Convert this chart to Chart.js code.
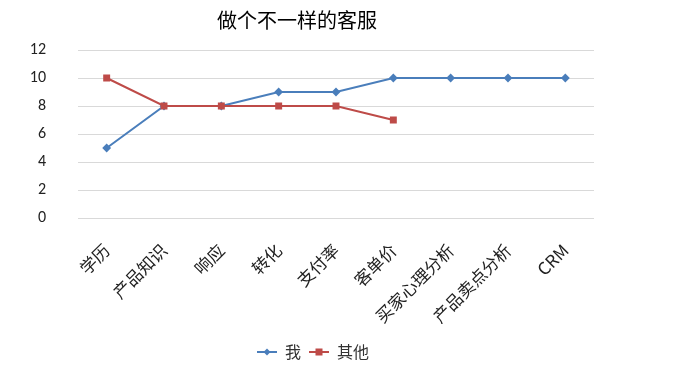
<!DOCTYPE html>
<html>
<head>
<meta charset="utf-8">
<script src="https://cdn.jsdelivr.net/npm/chart.js@4"></script>
<style>
  html, body { margin: 0; padding: 0; background: #fff; }
  #wrap { width: 674px; height: 372px; }
</style>
</head>
<body>
<div id="wrap"><canvas id="chart" width="674" height="372"></canvas></div>
<script>
/* data */
const categories = ["学历", "产品知识", "响应", "转化", "支付率", "客单价", "买家心理分析", "产品卖点分析", "CRM"];
const seriesMe = [5, 8, 8, 9, 9, 10, 10, 10, 10];
const seriesOthers = [10, 8, 8, 8, 8, 7, null, null, null];
const seriesNames = ["我", "其他"];
const yTicks = [0, 2, 4, 6, 8, 10, 12];

const BLUE = "#4a7ebb";
const RED = "#be4b48";
const CJK = "'Noto Sans CJK SC', 'Noto Sans', sans-serif";

// small line+marker picture for the legend
function legendIcon(color, shape) {
  const c = document.createElement("canvas");
  c.width = 20; c.height = 10;
  const g = c.getContext("2d");
  g.strokeStyle = color;
  g.lineWidth = 2;
  g.beginPath();
  g.moveTo(0, 5); g.lineTo(20, 5);
  g.stroke();
  g.fillStyle = color;
  if (shape === "rect") {
    g.fillRect(6.5, 1.5, 7, 7);
  } else {
    g.beginPath();
    g.moveTo(10, 1.5); g.lineTo(13.5, 5); g.lineTo(10, 8.5); g.lineTo(6.5, 5);
    g.closePath(); g.fill();
  }
  return c;
}
const icons = [legendIcon(BLUE, "diamond"), legendIcon(RED, "rect")];

// nudge the legend a bit right, like the original
const legendShift = {
  id: "legendShift",
  afterLayout(chart) {
    const lg = chart.legend;
    if (!lg) return;
    lg.left += 16;
    lg.right += 16;
  }
};

const ctx = document.getElementById("chart").getContext("2d");
new Chart(ctx, {
  type: "line",
  data: {
    labels: categories,
    datasets: [
      {
        label: seriesNames[0],
        data: seriesMe,
        borderColor: BLUE,
        backgroundColor: BLUE,
        borderWidth: 2,
        pointStyle: "rectRot",
        pointRadius: 3,
        pointHoverRadius: 3,
        tension: 0,
        order: 2
      },
      {
        label: seriesNames[1],
        data: seriesOthers,
        borderColor: RED,
        backgroundColor: RED,
        borderWidth: 2,
        pointStyle: "rect",
        pointRadius: 3.5,
        pointHoverRadius: 3.5,
        tension: 0,
        order: 1
      }
    ]
  },
  plugins: [legendShift],
  options: {
    responsive: false,
    animation: false,
    layout: { padding: { left: 0, right: 80, top: 8, bottom: 2 } },
    plugins: {
      title: {
        display: true,
        text: "做个不一样的客服",
        color: "#000",
        font: { family: CJK, size: 20, weight: "normal" },
        padding: { top: 0, bottom: 18 }
      },
      legend: {
        position: "bottom",
        labels: {
          color: "#333",
          font: { family: CJK, size: 16 },
          usePointStyle: true,
          pointStyleWidth: 20,
          boxHeight: 10,
          padding: 8,
          generateLabels: chart => chart.data.datasets.map((ds, i) => ({
            text: ds.label,
            pointStyle: icons[i],
            fillStyle: ds.borderColor,
            strokeStyle: ds.borderColor,
            lineWidth: 0,
            fontColor: "#333",
            datasetIndex: i
          }))
        }
      },
      tooltip: { enabled: false }
    },
    scales: {
      x: {
        offset: true,
        grid: { display: false, drawTicks: false },
        border: { display: false },
        ticks: {
          color: "#222",
          font: { family: CJK, size: 17 },
          minRotation: 45,
          maxRotation: 45,
          autoSkip: false,
          padding: 22
        },
        afterFit: s => { s.height = 118; }
      },
      y: {
        min: 0,
        max: 12,
        afterBuildTicks: s => { s.ticks = yTicks.map(v => ({ value: v })); },
        grid: { color: "#d9d9d9", lineWidth: 1, drawTicks: false },
        border: { display: false },
        ticks: {
          color: "#222",
          font: { family: "Carlito, 'Liberation Sans', sans-serif", size: 16 },
          padding: 32
        },
        afterFit: s => { s.width = 78; }
      }
    }
  }
});
</script>
</body>
</html>
